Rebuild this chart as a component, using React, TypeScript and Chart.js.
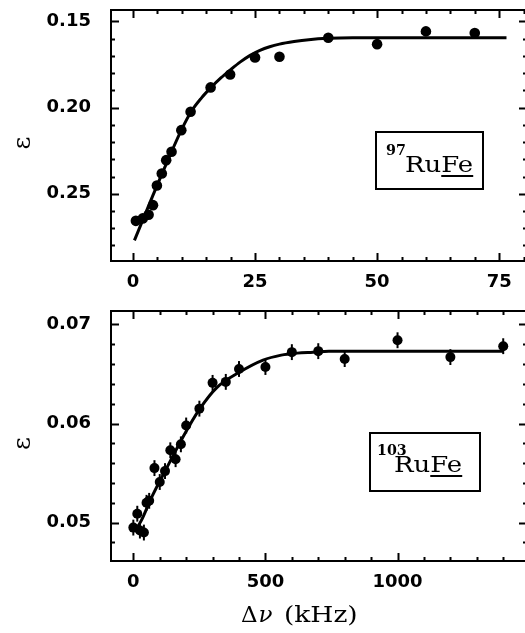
import React, { useEffect, useRef } from "react";
import { Chart, registerables } from "chart.js";

Chart.register(...registerables);

// ---------- Top panel (97RuFe) ----------
const topX = [0.6, 2, 3.2, 4.1, 4.9, 5.9, 6.8, 7.9, 9.9, 11.8, 15.9, 19.9, 25, 30, 40, 50, 60, 70];
const topY = [0.2657, 0.2643, 0.2622, 0.2566, 0.2452, 0.2382, 0.2305, 0.2256, 0.2131, 0.2024, 0.1883, 0.1808, 0.1709, 0.1705, 0.1595, 0.1632, 0.1558, 0.1568];
const topFitX = [0.3, 2, 4, 6, 8, 10, 12, 14, 16, 18, 20, 22, 24, 26, 28, 30, 33, 36, 40, 45, 76.5];
const topFitY = [0.277, 0.2653, 0.2515, 0.238, 0.225, 0.2125, 0.202, 0.1945, 0.1883, 0.1828, 0.178, 0.1735, 0.1697, 0.1668, 0.1647, 0.1632, 0.1617, 0.1606, 0.1598, 0.1595, 0.1595];
const topXLabels = [0, 25, 50, 75];
const topYLabels = [0.15, 0.2, 0.25];

// ---------- Bottom panel (103RuFe) ----------
const botX = [0, 15, 25, 40, 50, 60, 80, 100, 120, 140, 160, 180, 200, 250, 300, 350, 400, 500, 600, 700, 800, 1000, 1200, 1400];
const botY = [0.0495, 0.0509, 0.0492, 0.049, 0.052, 0.0522, 0.0555, 0.0541, 0.0552, 0.0573, 0.0564, 0.0579, 0.0598, 0.0615, 0.0641, 0.0642, 0.0655, 0.0657, 0.0672, 0.0673, 0.0665, 0.0684, 0.0667, 0.0678];
const botErr = [0.0008, 0.0008, 0.0008, 0.0008, 0.0008, 0.0008, 0.0008, 0.0008, 0.0008, 0.0008, 0.0008, 0.0008, 0.0008, 0.0008, 0.0008, 0.0008, 0.0008, 0.0008, 0.0008, 0.0008, 0.0008, 0.0008, 0.0008, 0.0008];
const botFitX = [5, 30, 70, 126, 189, 252, 315, 403, 491, 560, 620, 680, 740, 1400];
const botFitY = [0.0491, 0.0502, 0.0526, 0.0555, 0.0587, 0.0615, 0.0636, 0.0652, 0.0664, 0.0669, 0.0671, 0.0672, 0.0673, 0.0673];
const botXLabels = [0, 500, 1000];
const botYLabels = [0.05, 0.06, 0.07];

const TICK_FONT = { family: '"DejaVu Sans", sans-serif', size: 18, weight: "bold" as const };
const SERIF = '"DejaVu Serif", serif';

function isIn(v: number, list: number[]) {
  return list.some((m) => Math.abs(v - m) < 1e-9);
}

function drawScaled(ctx: CanvasRenderingContext2D, text: string, x: number, y: number, sx: number) {
  ctx.save();
  ctx.translate(x, y);
  ctx.scale(sx, 1);
  ctx.fillText(text, 0, 0);
  const w = ctx.measureText(text).width * sx;
  ctx.restore();
  return w;
}

type PanelCfg = {
  xStepMajor: number;
  yStepMajor: number;
  box: { x: number; y: number; w: number; h: number };
  sup: string;
  supX: number;
  textX: number;
  baseY: number;
  xTitle: boolean;
  errors?: { xs: number[]; ys: number[]; es: number[] };
};

function makeFramePlugin(cfg: PanelCfg) {
  return {
    id: "frameTicks",
    afterDatasetsDraw(chart: any) {
      const ctx: CanvasRenderingContext2D = chart.ctx;
      const ca = chart.chartArea;
      const xs = chart.scales.x;
      const ys = chart.scales.y;
      ctx.save();
      ctx.strokeStyle = "#000";
      ctx.fillStyle = "#000";
      // error bars
      if (cfg.errors) {
        ctx.lineWidth = 2;
        cfg.errors.xs.forEach((xv, i) => {
          const px = xs.getPixelForValue(xv);
          const y1 = ys.getPixelForValue(cfg.errors!.ys[i] - cfg.errors!.es[i]);
          const y2 = ys.getPixelForValue(cfg.errors!.ys[i] + cfg.errors!.es[i]);
          ctx.beginPath();
          ctx.moveTo(px, y1);
          ctx.lineTo(px, y2);
          ctx.stroke();
        });
      }
      // frame
      ctx.lineWidth = 2;
      ctx.strokeRect(ca.left, ca.top, ca.right - ca.left, ca.bottom - ca.top);
      // ticks inward on all sides
      ctx.lineWidth = 2;
      xs.ticks.forEach((t: any) => {
        const v = t.value;
        const major = Math.abs(v / cfg.xStepMajor - Math.round(v / cfg.xStepMajor)) < 1e-6;
        const len = major ? 8 : 4;
        const px = Math.round(xs.getPixelForValue(v)) + 0.5;
        ctx.beginPath();
        ctx.moveTo(px, ca.bottom);
        ctx.lineTo(px, ca.bottom - len);
        ctx.moveTo(px, ca.top);
        ctx.lineTo(px, ca.top + len);
        ctx.stroke();
      });
      ys.ticks.forEach((t: any) => {
        const v = t.value;
        const major = Math.abs(v / cfg.yStepMajor - Math.round(v / cfg.yStepMajor)) < 1e-6;
        const len = major ? 8 : 4;
        const py = Math.round(ys.getPixelForValue(v)) + 0.5;
        ctx.beginPath();
        ctx.moveTo(ca.left, py);
        ctx.lineTo(ca.left + len, py);
        ctx.moveTo(ca.right, py);
        ctx.lineTo(ca.right - len, py);
        ctx.stroke();
      });
      // y title epsilon
      ctx.save();
      ctx.font = `25px ${SERIF}`;
      ctx.textAlign = "center";
      ctx.textBaseline = "alphabetic";
      ctx.translate(30, (ca.top + ca.bottom) / 2 + 7.5);
      ctx.rotate(-Math.PI / 2);
      ctx.fillText("ε", 0, 0);
      ctx.restore();
      // label box
      const b = cfg.box;
      ctx.lineWidth = 2;
      ctx.strokeRect(b.x, b.y, b.w, b.h);
      ctx.textAlign = "left";
      ctx.textBaseline = "alphabetic";
      ctx.font = `bold 15px ${SERIF}`;
      drawScaled(ctx, cfg.sup, cfg.supX, cfg.baseY - 17, 0.95);
      ctx.font = `22px ${SERIF}`;
      const wRu = drawScaled(ctx, "Ru", cfg.textX, cfg.baseY, 1.18);
      const wFe = drawScaled(ctx, "Fe", cfg.textX + wRu, cfg.baseY, 1.18);
      ctx.fillRect(cfg.textX + wRu, cfg.baseY + 3, wFe, 2);
      // x title
      if (cfg.xTitle) {
        const by = 322;
        ctx.font = `23px ${SERIF}`;
        const wD = drawScaled(ctx, "Δ", 241, by, 1.0);
        ctx.font = `italic 23px ${SERIF}`;
        drawScaled(ctx, "ν", 241 + wD + 1, by, 1.0);
        ctx.font = `23px ${SERIF}`;
        drawScaled(ctx, "(kHz)", 284, by, 1.15);
      }
      ctx.restore();
    },
  };
}

function zeroPad(s: any) {
  s.paddingLeft = 0;
  s.paddingRight = 0;
  s.paddingTop = 0;
  s.paddingBottom = 0;
}

function makeOptions(o: {
  xmin: number; xmax: number; xstep: number; xLabels: number[]; xfmt: (v: number) => string;
  ymin: number; ymax: number; ystep: number; yLabels: number[]; reverse: boolean;
  padTop: number; xHeight: number;
}) {
  return {
    responsive: false,
    animation: false as const,
    devicePixelRatio: 1,
    layout: { padding: { top: o.padTop, left: 0, right: 13, bottom: 0 } },
    plugins: { legend: { display: false }, tooltip: { enabled: false } },
    scales: {
      x: {
        type: "linear" as const,
        position: "bottom" as const,
        min: o.xmin,
        max: o.xmax,
        grid: { display: false, drawTicks: false },
        border: { display: false },
        ticks: {
          stepSize: o.xstep,
          includeBounds: false,
          autoSkip: false,
          maxRotation: 0,
          minRotation: 0,
          padding: 11,
          color: "#000",
          font: TICK_FONT,
          callback: (v: any) => (isIn(Number(v), o.xLabels) ? o.xfmt(Number(v)) : ""),
        },
        afterFit: (s: any) => {
          s.height = o.xHeight;
          zeroPad(s);
        },
      },
      y: {
        type: "linear" as const,
        position: "left" as const,
        min: o.ymin,
        max: o.ymax,
        reverse: o.reverse,
        grid: { display: false, drawTicks: false },
        border: { display: false },
        ticks: {
          stepSize: o.ystep,
          includeBounds: false,
          autoSkip: false,
          padding: 20,
          color: "#000",
          font: TICK_FONT,
          callback: (v: any) => (isIn(Number(v), o.yLabels) ? Number(v).toFixed(2) : ""),
        },
        afterFit: (s: any) => {
          s.width = 111;
          zeroPad(s);
        },
      },
    },
  };
}

export default function App() {
  const topRef = useRef<HTMLCanvasElement>(null);
  const botRef = useRef<HTMLCanvasElement>(null);

  useEffect(() => {
    const topChart = new Chart(topRef.current!, {
      type: "scatter",
      data: {
        datasets: [
          {
            data: topX.map((x, i) => ({ x, y: topY[i] })),
            pointRadius: 5.3,
            pointBackgroundColor: "#000",
            pointBorderColor: "#000",
            pointBorderWidth: 0,
          },
          {
            data: topFitX.map((x, i) => ({ x, y: topFitY[i] })),
            showLine: true,
            pointRadius: 0,
            borderColor: "#000",
            borderWidth: 3,
            cubicInterpolationMode: "monotone",
          } as any,
        ],
      },
      options: makeOptions({
        xmin: -4.5, xmax: 80.7, xstep: 5, xLabels: topXLabels, xfmt: (v) => String(v),
        ymin: 0.1434, ymax: 0.289, ystep: 0.01, yLabels: topYLabels, reverse: true,
        padTop: 10, xHeight: 39,
      }) as any,
      plugins: [
        makeFramePlugin({
          xStepMajor: 25, yStepMajor: 0.05,
          box: { x: 376, y: 132, w: 107, h: 57 },
          sup: "97", supX: 386, textX: 405, baseY: 172, xTitle: false,
        }),
      ],
    });

    const botChart = new Chart(botRef.current!, {
      type: "scatter",
      data: {
        datasets: [
          {
            data: botX.map((x, i) => ({ x, y: botY[i] })),
            pointRadius: 5,
            pointBackgroundColor: "#000",
            pointBorderColor: "#000",
            pointBorderWidth: 0,
          },
          {
            data: botFitX.map((x, i) => ({ x, y: botFitY[i] })),
            showLine: true,
            pointRadius: 0,
            borderColor: "#000",
            borderWidth: 3,
            cubicInterpolationMode: "monotone",
          } as any,
        ],
      },
      options: makeOptions({
        xmin: -84.5, xmax: 1490, xstep: 100, xLabels: botXLabels, xfmt: (v) => String(v),
        ymin: 0.04613, ymax: 0.07135, ystep: 0.002, yLabels: botYLabels, reverse: false,
        padTop: 11, xHeight: 72,
      }) as any,
      plugins: [
        makeFramePlugin({
          xStepMajor: 500, yStepMajor: 0.01,
          box: { x: 370, y: 133, w: 110, h: 58 },
          sup: "103", supX: 377, textX: 394, baseY: 172, xTitle: true,
          errors: { xs: botX, ys: botY, es: botErr },
        }),
      ],
    });

    return () => {
      topChart.destroy();
      botChart.destroy();
    };
  }, []);

  return (
    <div
      style={{
        position: "fixed",
        left: 0,
        top: 0,
        width: 525,
        height: 633,
        overflow: "hidden",
        background: "#fff",
      }}
    >
      <canvas ref={topRef} width={540} height={300} style={{ position: "absolute", left: 0, top: 0 }} />
      <canvas ref={botRef} width={540} height={333} style={{ position: "absolute", left: 0, top: 300 }} />
    </div>
  );
}
